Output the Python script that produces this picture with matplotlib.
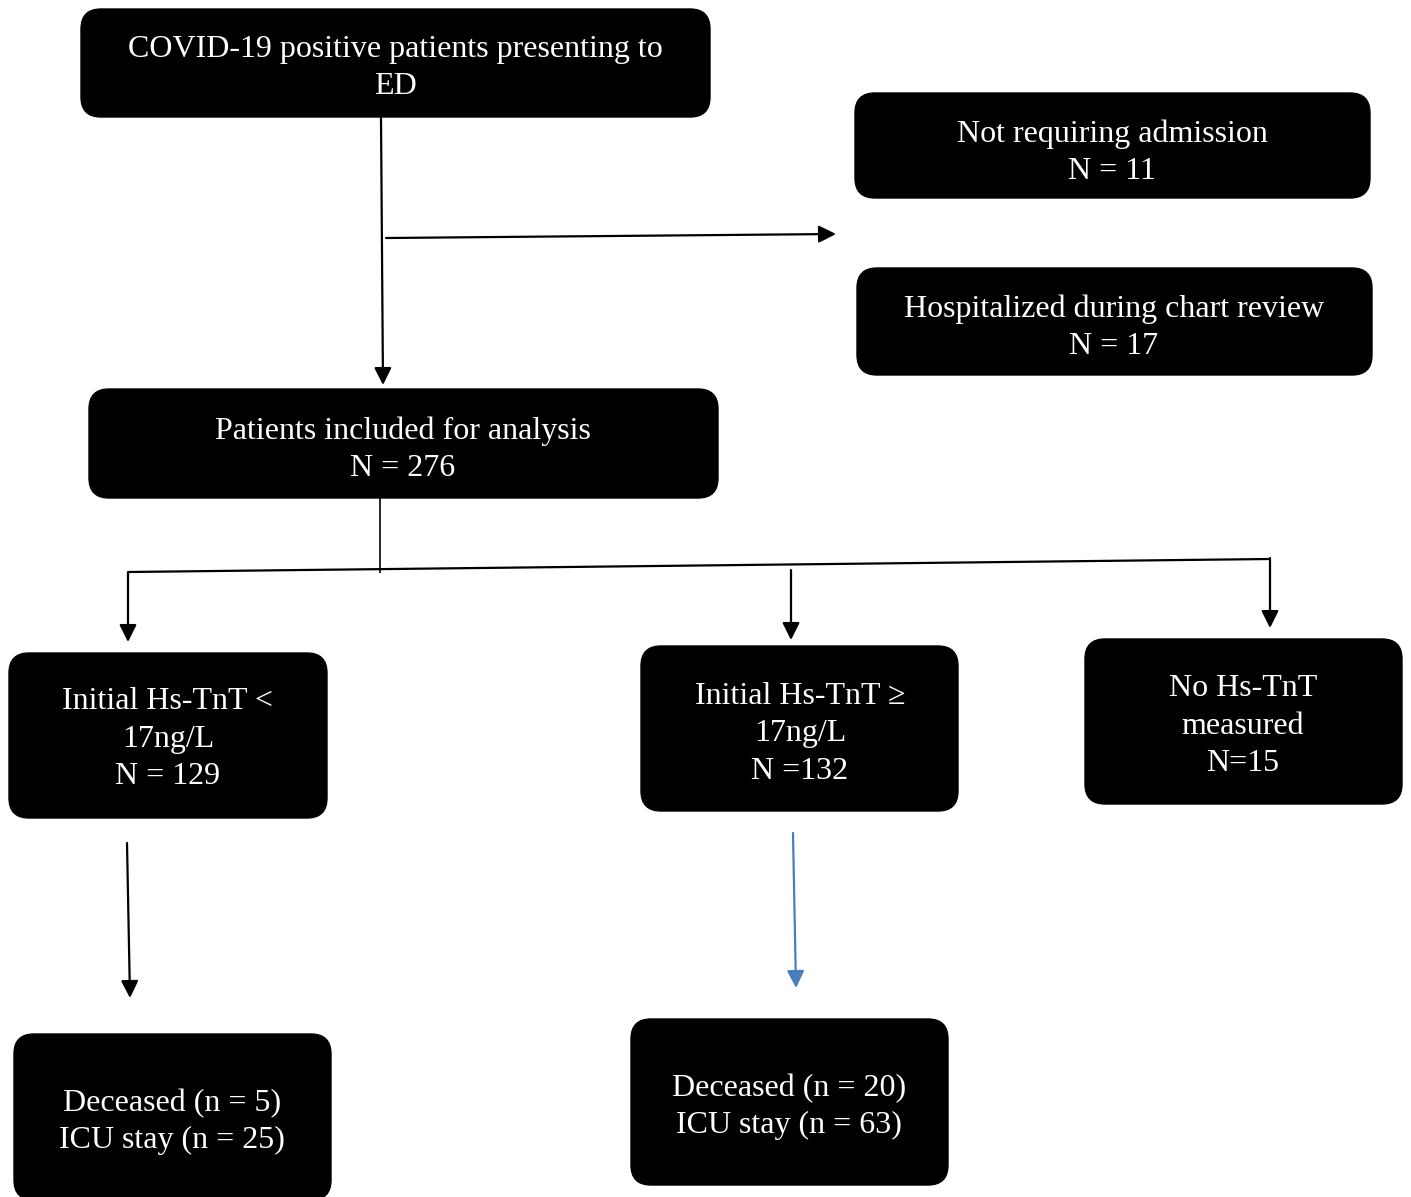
import matplotlib
matplotlib.use("Agg")
import matplotlib.pyplot as plt
from matplotlib.patches import FancyBboxPatch

plt.rcParams['font.family'] = ['Liberation Serif', 'DejaVu Serif']

# Box texts
box_texts = [
    "COVID-19 positive patients presenting to\nED",
    "Not requiring admission\nN = 11",
    "Hospitalized during chart review\nN = 17",
    "Patients included for analysis\nN = 276",
    "Initial Hs-TnT <\n17ng/L\nN = 129",
    "Initial Hs-TnT \u2265\n17ng/L\nN =132",
    "No Hs-TnT\nmeasured\nN=15",
    "Deceased (n = 5)\nICU stay (n = 25)",
    "Deceased (n = 20)\nICU stay (n = 63)",
]
# layout (pixel space): x0, y0, x1, y1, text center x, text center y
box_layout = [
    (81, 9, 710, 117, 395, 68),
    (855, 93, 1370, 198, 1112, 153),
    (857, 268, 1372, 375, 1114, 328),
    (89, 389, 718, 498, 403, 450),
    (9, 653, 327, 818, 168, 739),
    (641, 646, 958, 811, 800, 734),
    (1085, 639, 1402, 804, 1243, 726),
    (14, 1034, 331, 1200, 172, 1122),
    (631, 1019, 948, 1185, 789, 1107),
]

fig = plt.figure(figsize=(14.11, 11.97), dpi=100)
ax = fig.add_axes([0, 0, 1, 1])
ax.set_xlim(0, 1411)
ax.set_ylim(1197, 0)
ax.axis('off')

for (x0, y0, x1, y1, tx, ty), t in zip(box_layout, box_texts):
    p = FancyBboxPatch((x0, y0), x1 - x0, y1 - y0,
                       boxstyle="round,pad=0,rounding_size=20",
                       fc='black', ec='black', lw=1)
    ax.add_patch(p)
    ax.text(tx, ty, t, color='white', ha='center', va='center',
            fontsize=23, linespacing=1.37)

def arrow(x0, y0, x1, y1, color='black'):
    ax.annotate('', xy=(x1, y1), xytext=(x0, y0),
                arrowprops=dict(arrowstyle='-|>', color=color, lw=1.6,
                                mutation_scale=26, shrinkA=0, shrinkB=0))

def line(x0, y0, x1, y1, lw=1.6):
    ax.plot([x0, x1], [y0, y1], color='black', lw=lw, solid_capstyle='butt')

arrow(381, 118, 383, 385)
arrow(386, 238, 836, 234)
line(380, 498, 380, 573, lw=1.2)
line(128, 572, 1270, 559)
line(1270, 557, 1270, 562, lw=1.2)
arrow(128, 572, 128, 642)
arrow(791, 570, 791, 640)
arrow(1270, 559, 1270, 628)
arrow(127, 843, 130, 998)
arrow(793, 833, 796, 988, color='#4a7ebb')

fig.savefig('out.png', dpi=100, facecolor='white')
